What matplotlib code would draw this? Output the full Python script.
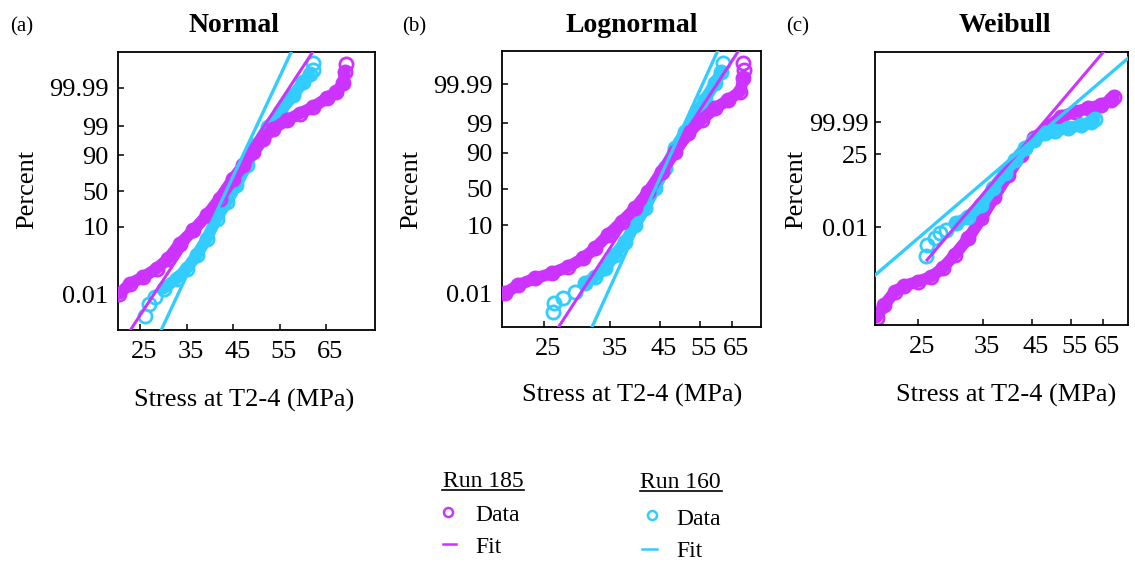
import matplotlib
matplotlib.use('Agg')
import matplotlib.pyplot as plt
import matplotlib.transforms as mtransforms
from matplotlib.lines import Line2D
from matplotlib.ticker import NullLocator
from statistics import NormalDist
import math

plt.rcParams['font.family'] = ['Liberation Serif', 'DejaVu Serif']

PURPLE = '#CC33FF'
CYAN = '#33CCFF'

# ---------------- tick labels ----------------
x_ticks = [25, 35, 45, 55, 65]
norm_pct_ticks = [0.01, 10, 50, 90, 99, 99.99]
norm_pct_labels = ['0.01', '10', '50', '90', '99', '99.99']
weib_pct_ticks = [0.01, 25, 99.99]
weib_pct_labels = ['0.01', '25', '99.99']

titles = ['Normal', 'Lognormal', 'Weibull']
panel_tags = ['(a)', '(b)', '(c)']

# ---------------- Panel (a) Normal: stress (MPa) vs standard-normal quantile ----------------
a185_x = [20.5, 22.8, 25.6, 28.5, 31.0, 33.5, 36.4, 39.3, 42.1, 45.0, 47.2, 49.3, 51.5,
          53.6, 56.5, 59.3, 62.2, 65.1, 67.2, 68.7, 69.0, 69.2]
a185_q = [-3.70, -3.34, -3.10, -2.80, -2.44, -1.90, -1.42, -0.88, -0.27, 0.45, 0.93, 1.41,
          1.89, 2.25, 2.55, 2.79, 3.03, 3.34, 3.57, 3.88, 4.30, 4.57]
a185_fit_x = [22.8, 62.2]
a185_fit_q = [-5.03, 5.04]

a160_x = [26.0, 26.9, 28.2, 30.0, 32.8, 35.0, 37.1, 39.3, 41.4, 43.6, 45.7, 47.9, 50.0,
          52.5, 55.0, 57.9, 60.1, 61.5, 62.2, 62.1]
a160_q = [-4.51, -4.07, -3.83, -3.52, -3.16, -2.80, -2.32, -1.72, -1.00, -0.40, 0.21, 0.93,
          1.65, 2.31, 2.85, 3.45, 3.94, 4.20, 4.36, 4.60]
a160_fit_x = [29.45, 57.56]
a160_fit_q = [-5.03, 5.04]

# ---------------- Panel (b) Lognormal ----------------
b185_x = [20.5, 21.95, 23.9, 26.0, 28.3, 30.5, 32.4, 34.6, 37.1, 39.7, 42.4, 45.4, 48.6,
          52.0, 55.6, 59.5, 63.7, 67.6, 68.7, 68.9, 68.7]
b185_q = [-3.70, -3.40, -3.17, -2.99, -2.75, -2.46, -2.10, -1.63, -1.16, -0.68, -0.10, 0.61,
          1.32, 1.98, 2.45, 2.86, 3.16, 3.45, 3.93, 4.22, 4.46]
b185_fit_x = [26.8, 67.0]
b185_fit_q = [-4.94, 4.89]

b160_x = [26.2, 26.3, 27.6, 29.3, 30.8, 32.4, 34.1, 35.8, 37.7, 39.7, 41.7, 43.9, 46.2,
          48.6, 51.1, 53.8, 56.5, 59.5, 61.4, 62.1]
b160_q = [-4.35, -4.05, -3.88, -3.64, -3.34, -3.11, -2.81, -2.34, -1.87, -1.28, -0.68, 0.02,
          0.73, 1.44, 2.03, 2.62, 3.16, 3.75, 4.16, 4.46]
b160_fit_x = [31.8, 60.3]
b160_fit_q = [-4.94, 4.89]

# ---------------- Panel (c) Weibull: stress vs ln(-ln(1-p)) ----------------
c185_x = [20.2, 21.0, 22.2, 23.3, 25.0, 26.8, 28.4, 30.2, 32.4, 34.7, 37.1, 39.8, 42.6,
          45.6, 48.9, 52.4, 56.2, 60.2, 64.4, 67.8, 68.7]
c185_q = [-19.05, -17.67, -16.22, -15.57, -15.13, -14.59, -13.67, -12.23, -10.41, -8.23,
          -5.88, -3.52, -1.34, 0.48, 1.74, 2.83, 3.37, 3.74, 4.10, 4.65, 5.01]
c185_fit_x = [26.2, 65.0]
c185_fit_q = [-12.77, 9.84]

c160_x = [26.1, 26.2, 27.3, 28.0, 28.9, 30.5, 32.4, 34.7, 36.8, 39.1, 41.2, 43.4, 45.6,
          48.1, 50.6, 54.2, 58.1, 61.2, 62.2]
c160_q = [-12.30, -11.14, -10.41, -9.86, -9.50, -8.78, -8.06, -6.78, -4.97, -3.33, -1.88,
          -0.61, 0.29, 1.02, 1.27, 1.57, 1.93, 2.22, 2.58]
c160_fit_x = [20.06, 73.9]
c160_fit_q = [-14.40, 9.19]


def norm_q(p):
    return NormalDist().inv_cdf(p / 100.0)


def weib_q(p):
    return math.log(-math.log(1.0 - p / 100.0))


W, H = 1135, 563
fig = plt.figure(figsize=(W / 100, H / 100), dpi=100)


def fx(px):
    return px / W


def fy(py):
    return 1 - py / H


def add_axes(l, r, t, b):
    return fig.add_axes([fx(l), fy(b), fx(r) - fx(l), (b - t) / H])


panels = [
    dict(box=(118.3, 375.0, 52.3, 329.5), xlog=False, xlim=(20.27, 75.5), ylim=(-4.99, 5.0),
         yt=[norm_q(p) for p in norm_pct_ticks], ytl=norm_pct_labels, ypad=7.0,
         d185=(a185_x, a185_q, 0, 20), f185=(a185_fit_x, a185_fit_q),
         d160=(a160_x, a160_q, 3, 17), f160=(a160_fit_x, a160_fit_q), order=('160', '185')),
    dict(box=(502.3, 760.7, 51.0, 326.7), xlog=True, xlim=(20.24, 75.0), ylim=(-4.88, 4.89),
         yt=[norm_q(p) for p in norm_pct_ticks], ytl=norm_pct_labels, ypad=7.0,
         d185=(b185_x, b185_q, 0, 18), f185=(b185_fit_x, b185_fit_q),
         d160=(b160_x, b160_q, 4, 18), f160=(b160_fit_x, b160_fit_q), order=('160', '185')),
    dict(box=(875.3, 1128.0, 52.3, 325.0), xlog=True, xlim=(20.06, 73.9), ylim=(-19.85, 9.84),
         yt=[weib_q(p) for p in weib_pct_ticks], ytl=weib_pct_labels, ypad=5.0,
         d185=(c185_x, c185_q, 0, 20), f185=(c185_fit_x, c185_fit_q),
         d160=(c160_x, c160_q, 5, 18), f160=(c160_fit_x, c160_fit_q), order=('185', '160')),
]

TICK_FS = 19
LABEL_FS = 19
x_offset = mtransforms.ScaledTranslation(4 / 100, 0, fig.dpi_scale_trans)

for i, P in enumerate(panels):
    ax = add_axes(*P['box'])
    if P['xlog']:
        ax.set_xscale('log')
    ax.set_xlim(*P['xlim'])
    ax.set_ylim(*P['ylim'])

    def draw_data(d, color, z):
        xs, qs, i0, i1 = d
        ax.plot(xs[i0:i1 + 1], qs[i0:i1 + 1], '-', color=color, lw=8.5,
                solid_capstyle='round', solid_joinstyle='round', zorder=z)
        ax.plot(xs, qs, 'o', mfc='none', mec=color, ms=9.5, mew=2.0, zorder=z + 0.1)

    zbase = 2
    for key in P['order']:
        color = PURPLE if key == '185' else CYAN
        draw_data(P['d' + key], color, zbase)
        zbase += 1
    ax.plot(P['f185'][0], P['f185'][1], color=PURPLE, lw=2.2, zorder=6)
    ax.plot(P['f160'][0], P['f160'][1], color=CYAN, lw=2.4, zorder=6.5)

    ax.set_xticks(x_ticks)
    ax.set_xticklabels([str(t) for t in x_ticks])
    ax.xaxis.set_minor_locator(NullLocator())
    ax.set_yticks(P['yt'])
    ax.set_yticklabels(P['ytl'])
    ax.yaxis.set_minor_locator(NullLocator())
    ax.tick_params(axis='both', direction='in', length=4, width=1.1, labelsize=TICK_FS,
                   colors='black')
    ax.tick_params(axis='x', pad=8)
    ax.tick_params(axis='y', pad=P['ypad'])
    for lab in ax.get_xticklabels():
        lab.set_transform(lab.get_transform() + x_offset)
    for sp in ax.spines.values():
        sp.set_linewidth(1.3)
        sp.set_color('black')

# titles and panel tags
title_x = [234, 632, 1005]
tag_x = [10, 402, 786]
for i in range(3):
    fig.text(fx(title_x[i]), fy(32.3), titles[i], ha='center', va='baseline',
             fontsize=20, fontweight='bold')
    fig.text(fx(tag_x[i]), fy(31), panel_tags[i], ha='left', va='baseline', fontsize=15)

# axis labels
ylab_x = [27.5, 411.7, 795.8]
xlab_x = [243.8, 631.7, 1005.8]
xlab_y = [400, 395, 395]
for i in range(3):
    fig.text(fx(ylab_x[i]), fy(189), 'Percent', rotation=90, ha='center', va='center',
             fontsize=LABEL_FS)
    fig.text(fx(xlab_x[i]), fy(xlab_y[i]), 'Stress at T2-4 (MPa)', ha='center',
             va='center', fontsize=LABEL_FS)

# custom legend
LEG_FS = 17
groups = [
    dict(name='Run 185', color=PURPLE, tx=443, ty=487.3, ul=(442, 524, 489.8),
         mk=(448.3, 511.7), dty=521, dash=(443.3, 456, 544), fty=553.3, lx=475),
    dict(name='Run 160', color=CYAN, tx=640, ty=488.3, ul=(640, 722, 490.8),
         mk=(651.7, 515), dty=525, dash=(641.7, 656.7, 549.3), fty=557.3, lx=676.7),
]
for g in groups:
    fig.text(fx(g['tx']), fy(g['ty']), g['name'], ha='left', va='baseline', fontsize=LEG_FS)
    x0, x1, yy = g['ul']
    fig.add_artist(Line2D([fx(x0), fx(x1)], [fy(yy), fy(yy)], color='black', lw=1.2,
                          transform=fig.transFigure))
    fig.add_artist(Line2D([fx(g['mk'][0])], [fy(g['mk'][1])], marker='o', ms=6.5,
                          mfc='none', mec=g['color'], mew=1.8, ls='none',
                          transform=fig.transFigure))
    fig.text(fx(g['lx']), fy(g['dty']), 'Data', ha='left', va='baseline', fontsize=LEG_FS)
    d0, d1, dy = g['dash']
    fig.add_artist(Line2D([fx(d0), fx(d1)], [fy(dy), fy(dy)], color=g['color'], lw=1.8,
                          transform=fig.transFigure))
    fig.text(fx(g['lx']), fy(g['fty']), 'Fit', ha='left', va='baseline', fontsize=LEG_FS)

fig.savefig('out.png', dpi=100)
